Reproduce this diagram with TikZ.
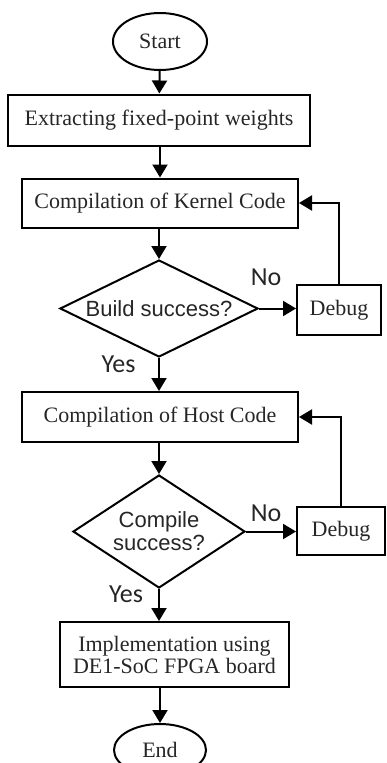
\documentclass[tikz,border=0pt]{standalone}
\usepackage{fontspec}
\setmainfont{Liberation Serif}
\newfontfamily\diafont{Liberation Sans}
\newfontfamily\yesnofont{Carlito}
\usetikzlibrary{arrows.meta,shapes.geometric}

\tikzset{
    block/.style={draw, rectangle, inner sep=0pt, align=center,
        font=\fontsize{22}{22}\selectfont},
    terminal/.style={draw, ellipse, inner sep=0pt,
        font=\fontsize{22}{22}\selectfont},
    decision/.style={draw, diamond, inner sep=0pt, align=center,
        font=\diafont\fontsize{22}{23}\selectfont},
    answer/.style={font=\yesnofont\fontsize{26}{26}\selectfont, inner sep=0pt},
    flow/.style={->, line width=2pt}
}

\begin{document}
\begin{tikzpicture}[x=1pt, y=-1pt, line width=2pt, text=black!85,
    >={Triangle[length=13pt,width=15pt]}]
\useasboundingbox (0,0) rectangle (386,763);

    \node[terminal, minimum width=94pt, minimum height=57pt] (start) at (160,41.5) {Start};
    \node[block, minimum width=302pt, minimum height=51pt] (extract) at (159,120) {Extracting fixed-point weights};
    \node[block, minimum width=276pt, minimum height=49pt] (kernel) at (160,203) {Compilation of Kernel Code};
    \node[decision, aspect=2, minimum width=198pt, minimum height=97pt] (build) at (159,308.5) {Build success?};
    \node[block, minimum width=84pt, minimum height=50pt] (debugA) at (339,310) {Debug};
    \node[block, minimum width=276pt, minimum height=50pt] (host) at (160,417) {Compilation of Host Code};
    \node[decision, aspect=1.5, minimum width=172pt, minimum height=113pt] (compile) at (159,531.5) {Compile\\success?};
    \node[block, minimum width=88pt, minimum height=48pt] (debugB) at (341,531) {Debug};
    \node[block, minimum width=229pt, minimum height=65pt] (impl) at (174.5,654.5) {Implementation using\\DE1-SoC FPGA board};
    \node[terminal, minimum width=92pt, minimum height=52pt] (end) at (160,750) {End};

    \node[answer] (noA) at (266,277) {No};
    \node[answer] (yesA) at (118.5,364) {Yes};
    \node[answer] (noB) at (266,513) {No};
    \node[answer] (yesB) at (126,594) {Yes};

    \draw[flow] (start) -- (extract);
    \draw[flow] (extract.south -| kernel.north) -- (kernel);
    \draw[flow] (kernel.south -| build.north) -- (build);
    \draw[flow] (build.east) -- (build.east -| debugA.west);
    \draw[flow] (debugA.north) |- (kernel.east);
    \draw[flow] (build.south) -- (build.south |- host.north);
    \draw[flow] (host.south -| compile.north) -- (compile);
    \draw[flow] (compile.east) -- (compile.east -| debugB.west);
    \draw[flow] (debugB.north) |- (host.east);
    \draw[flow] (compile.south) -- (compile.south |- impl.north);
    \draw[flow] (impl.south -| end.north) -- (end);
\end{tikzpicture}
\end{document}
